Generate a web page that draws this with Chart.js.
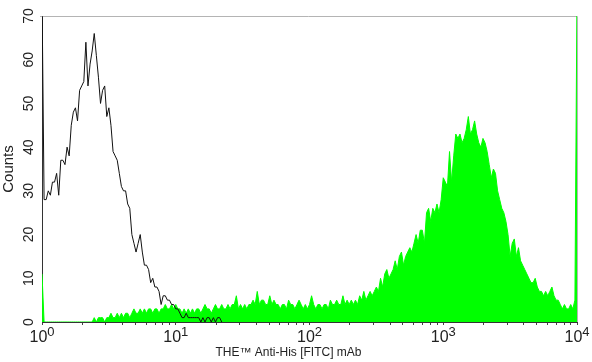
<!DOCTYPE html>
<html>
<head>
<meta charset="utf-8">
<script src="https://cdn.jsdelivr.net/npm/chart.js@4.4.0/dist/chart.umd.min.js"></script>
<style>
    html, body { margin: 0; padding: 0; background: #fff; }
</style>
</head>
<body>
<canvas id="histChart" width="592" height="362"></canvas>
<script>
// ─── Data (256-channel log histogram, 4 decades) ───
const channelsPerDecade = 64;
const tickExponents = [0, 1, 2, 3, 4];

// isotype control, counts per channel (channel 0 ..)
const controlCounts = [
    75, 28, 28, 30, 29, 32, 32, 34, 29, 37,
    37, 36, 40, 38, 45, 48, 49, 46, 53, 54,
    55, 64, 54, 59, 62, 66, 61, 56, 50, 53,
    54, 47, 49, 45, 39, 38, 37, 34, 31, 30,
    30, 27, 26, 20, 18, 16, 18, 20, 16, 13,
    13, 12, 9, 10, 8, 8, 7, 4, 6, 6,
    5, 5, 4, 4, 3, 3, 2, 1, 1, 2,
    1, 1, 1, 1, 1, 1, 0, 1, 0, 1,
    1, 0, 1, 0, 1, 1, 0
];

// THE Anti-His [FITC] stained, counts per channel (channel 0 .. 256)
const stainedCounts = [
    11, 0, 0, 0, 0, 0, 0, 0, 0, 0,
    0, 0, 0, 0, 0, 0, 0, 0, 0, 0,
    0, 0, 0, 0, 0, 1, 0, 1, 1, 1,
    0, 1, 1, 2, 1, 1, 2, 1, 2, 1,
    2, 2, 1, 2, 3, 2, 2, 3, 2, 3,
    2, 3, 3, 2, 3, 3, 2, 3, 3, 4,
    3, 3, 4, 3, 4, 3, 3, 2, 3, 2,
    3, 2, 3, 2, 3, 3, 2, 3, 4, 3,
    3, 2, 3, 4, 3, 3, 4, 3, 3, 4,
    3, 4, 4, 6, 3, 4, 3, 4, 3, 4,
    4, 5, 4, 7, 4, 5, 5, 4, 4, 6,
    4, 5, 4, 4, 3, 4, 4, 3, 5, 4,
    4, 3, 4, 5, 4, 3, 4, 3, 4, 6,
    4, 3, 4, 4, 3, 4, 4, 3, 5, 4,
    4, 5, 4, 4, 6, 4, 5, 4, 5, 4,
    5, 4, 6, 5, 7, 5, 6, 7, 6, 7,
    8, 7, 10, 8, 11, 12, 10, 11, 12, 14,
    12, 15, 16, 13, 15, 16, 17, 16, 18, 20,
    18, 21, 21, 18, 25, 26, 23, 26, 25, 27,
    25, 28, 33, 32, 31, 39, 32, 38, 43, 42,
    43, 41, 42, 44, 47, 43, 44, 46, 43, 41,
    40, 42, 41, 39, 36, 33, 35, 34, 30, 28,
    26, 25, 23, 20, 15, 18, 19, 15, 17, 14,
    13, 12, 11, 10, 9, 9, 10, 8, 7, 7,
    6, 7, 6, 7, 8, 6, 5, 5, 4, 3,
    4, 3, 3, 4, 3, 5, 75
];

const yMin = 0, yMax = 70, yStep = 10;

const fontFamily = '"Liberation Sans", Arial, Helvetica, sans-serif';
const textColor = '#222';

// channel -> fluorescence intensity
const toPoints = counts => counts.map((c, ch) => ({ x: Math.pow(10, ch / channelsPerDecade), y: c }));

// minor ticks 2..9 in each decade
const logTicks = [];
tickExponents.forEach(e => {
    const base = Math.pow(10, e);
    const top = e === tickExponents[tickExponents.length - 1] ? 1 : 9;
    for (let m = 1; m <= top; m++) logTicks.push(m * base);
});

// ─── Plugins ───
const frameLines = {
    id: 'frameLines',
    beforeDatasetsDraw(chart) {
        const { ctx, chartArea: { left, right, top, bottom } } = chart;
        ctx.save();
        ctx.strokeStyle = '#b4b4b4';
        ctx.lineWidth = 1;
        ctx.beginPath();
        ctx.moveTo(left - 2, top + 0.5);
        ctx.lineTo(right + 0.5, top + 0.5);
        ctx.lineTo(right + 0.5, bottom);
        ctx.stroke();
        ctx.restore();
    }
};

const decadeLabels = {
    id: 'decadeLabels',
    afterDraw(chart) {
        const { ctx } = chart;
        const xs = chart.scales.x;
        const baseY = xs.top + 20;
        ctx.save();
        ctx.fillStyle = textColor;
        ctx.textBaseline = 'alphabetic';
        ctx.textAlign = 'left';
        tickExponents.forEach(e => {
            ctx.font = `16px ${fontFamily}`;
            const wb = ctx.measureText('10').width;
            ctx.font = `13px ${fontFamily}`;
            const we = ctx.measureText(String(e)).width;
            const left = xs.getPixelForValue(Math.pow(10, e)) - (wb + we) / 2;
            ctx.font = `16px ${fontFamily}`;
            ctx.fillText('10', left, baseY);
            ctx.font = `13px ${fontFamily}`;
            ctx.fillText(String(e), left + wb, baseY - 6);
        });
        ctx.restore();
    }
};

// ─── Chart ───
const ctx = document.getElementById('histChart').getContext('2d');
new Chart(ctx, {
    type: 'line',
    data: {
        datasets: [{
            label: 'Isotype control',
            data: toPoints(controlCounts),
            borderColor: '#111',
            borderWidth: 1,
            pointRadius: 0,
            fill: false,
            tension: 0
        }, {
            label: 'THE™ Anti-His [FITC] mAb',
            data: toPoints(stainedCounts),
            borderColor: '#00ff00',
            backgroundColor: '#00ff00',
            borderWidth: 1,
            pointRadius: 0,
            fill: 'origin',
            tension: 0
        }]
    },
    options: {
        responsive: false,
        animation: false,
        events: [],
        layout: { padding: { top: 16, right: 15, left: 0, bottom: 0 } },
        scales: {
            x: {
                type: 'logarithmic',
                min: 1,
                max: 10000,
                afterBuildTicks: s => { s.ticks = logTicks.map(v => ({ value: v })); },
                ticks: { callback: () => '', autoSkip: false, maxRotation: 0 },
                grid: { drawOnChartArea: false, drawTicks: true, tickLength: 3, color: '#444' },
                border: { color: '#333', width: 1 },
                afterFit: s => {
                    s.height = 23.6;
                    s.paddingLeft = 0; s.paddingRight = 0;
                }
            },
            y: {
                min: yMin,
                max: yMax,
                ticks: {
                    stepSize: yStep,
                    minRotation: 90,
                    maxRotation: 90,
                    crossAlign: 'center',
                    padding: 5,
                    color: textColor,
                    font: { family: fontFamily, size: 14 }
                },
                grid: { drawOnChartArea: false, drawTicks: false },
                border: { color: '#333', width: 1 },
                title: {
                    display: true,
                    text: 'Counts',
                    color: textColor,
                    font: { family: fontFamily, size: 15 },
                    padding: { top: 0, bottom: 0 }
                },
                afterFit: s => {
                    s.width = 42;
                    s.paddingTop = 0; s.paddingBottom = 0;
                }
            }
        },
        plugins: {
            legend: { display: false },
            tooltip: { enabled: false },
            title: {
                display: true,
                position: 'bottom',
                text: 'THE™ Anti-His [FITC] mAb',
                color: textColor,
                font: { family: fontFamily, size: 12, weight: 'normal' },
                padding: { top: 0, bottom: 2 }
            }
        }
    },
    plugins: [frameLines, decadeLabels]
});
</script>
</body>
</html>
